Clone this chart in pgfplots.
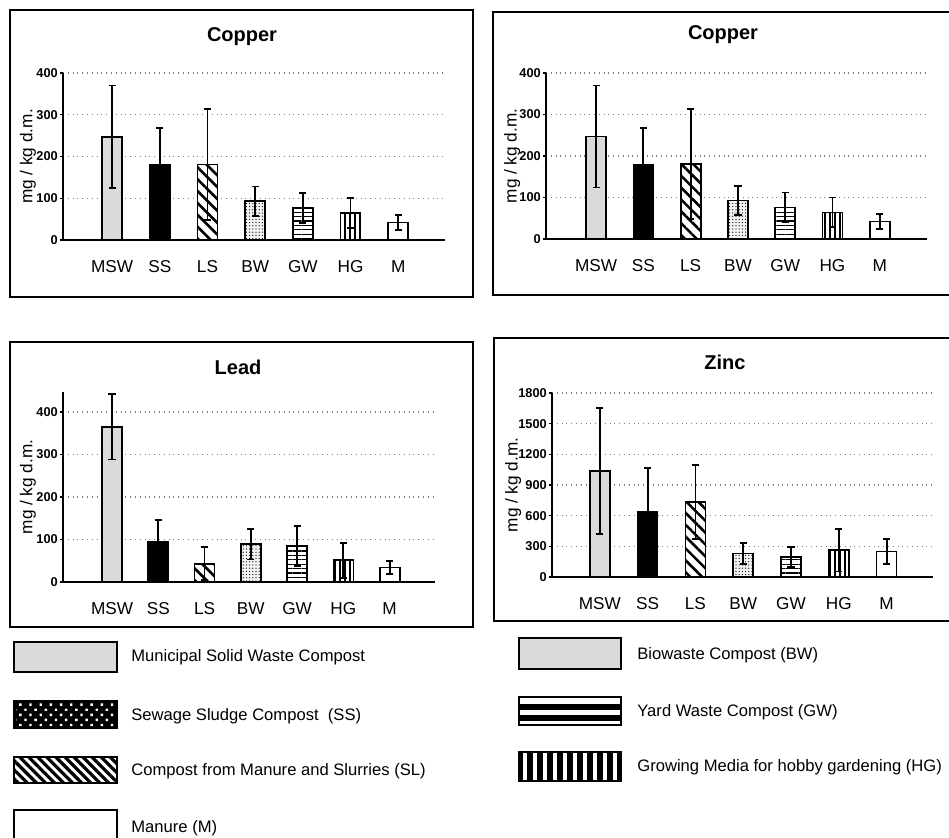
\documentclass[border=0pt]{standalone}
\usepackage{fontspec}
\setmainfont{Liberation Sans}
\usepackage{pgfplots}
\pgfplotsset{compat=1.18}
\usetikzlibrary{patterns.meta}
\definecolor{mswgray}{RGB}{218,218,218}
\pgfplotsset{
  panel/.style 2 args={
    scale only axis, anchor=south west,
    ybar, bar width=10pt, bar shift=0pt,
    ymin=0, xmin=#1, xmax=#2,
    axis lines*=left,
    axis line style={line width=0.8pt, black},
    xtick={0,...,6}, xticklabels={MSW,SS,LS,BW,GW,HG,M},
    x tick style={draw=none},
    xticklabel style={font=\fontsize{8.6}{10}\selectfont, yshift=-5pt},
    yticklabel style={font=\bfseries\fontsize{6.4}{7.5}\selectfont, inner sep=0.8pt},
    y tick style={black, line width=0.6pt},
    tick align=outside, major tick length=1.6pt,
    ymajorgrids, major grid style={dotted, gray, line width=0.6pt},
    /pgf/number format/assume math mode=true,
    /pgf/number format/1000 sep={},
    ylabel={mg / kg d.m.},
    every axis plot/.append style={draw=black, line width=0.85pt},
    error bars/y dir=both, error bars/y explicit,
    error bars/error bar style={black, line width=0.9pt, solid},
    error bars/error mark options={black, line width=0.9pt, mark size=1.8pt, rotate=90},
  },
  ylab/.style={every axis y label/.style={at={(axis description cs:#1,0.5)}, rotate=90, anchor=center, font=\fontsize{8.6}{10}\selectfont}},
  sMSW/.style={fill=mswgray},
  sSS/.style={fill=black},
  sLS/.style={fill=white, postaction={pattern={Lines[angle=-45,distance=4.2pt,line width=1.3pt]}}},
  sBW/.style={fill=gray!10, postaction={pattern={Dots[distance=1.6pt,radius=0.32pt]}}},
  sGW/.style={fill=white, postaction={pattern={Lines[angle=0,distance=2.2pt,line width=0.65pt]}}},
  sHG/.style={fill=white, postaction={pattern={Lines[angle=90,distance=2.5pt,line width=0.8pt]}}},
  sM/.style={fill=white},
}
\newcommand\leg{\fontsize{8.3}{10}\selectfont}
\newcommand\ttl{\bfseries\fontsize{10}{12}\selectfont}
\begin{document}
\begin{tikzpicture}
\useasboundingbox (0,0) rectangle (474.5pt,-418.5pt);
\fill[white] (0,0) rectangle (474.5pt,-418.5pt);
% ---------- Copper (left)
\begin{axis}[panel={-1.03}{6.98}, ylab=-0.0916, at={(31.5pt,-120pt)}, width=191pt, height=83.5pt,
  ymax=400, ytick={0,100,...,400}]
\addplot[sMSW] coordinates {(0,247) +- (0,123)};
\addplot[sSS]  coordinates {(1,179) +- (0,89)};
\addplot[sLS]  coordinates {(2,181) +- (0,133)};
\addplot[sBW]  coordinates {(3,93) +- (0,35)};
\addplot[sGW]  coordinates {(4,76) +- (0,36)};
\addplot[sHG]  coordinates {(5,64) +- (0,36)};
\addplot[sM]   coordinates {(6,42) +- (0,18)};
\end{axis}
% ---------- Copper (right)
\begin{axis}[panel={-1.06}{7.0}, ylab=-0.089, at={(273pt,-119.5pt)}, width=190.5pt, height=83pt,
  ymax=400, ytick={0,100,...,400}]
\addplot[sMSW] coordinates {(0,247) +- (0,123)};
\addplot[sSS]  coordinates {(1,179) +- (0,89)};
\addplot[sLS]  coordinates {(2,181) +- (0,133)};
\addplot[sBW]  coordinates {(3,93) +- (0,35)};
\addplot[sGW]  coordinates {(4,76) +- (0,36)};
\addplot[sHG]  coordinates {(5,64) +- (0,36)};
\addplot[sM]   coordinates {(6,42) +- (0,18)};
\end{axis}
% ---------- Lead
\begin{axis}[panel={-1.06}{6.98}, ylab=-0.094, at={(31.5pt,-291pt)}, width=186pt, height=95pt,
  ymax=447, ytick={0,100,...,400}]
\addplot[sMSW] coordinates {(0,365) +- (0,77)};
\addplot[sSS]  coordinates {(1,94) +- (0,51)};
\addplot[sLS]  coordinates {(2,43) +- (0,39)};
\addplot[sBW]  coordinates {(3,89) +- (0,36)};
\addplot[sGW]  coordinates {(4,85) +- (0,47)};
\addplot[sHG]  coordinates {(5,51) +- (0,41)};
\addplot[sM]   coordinates {(6,34) +- (0,15)};
\end{axis}
% ---------- Zinc
\begin{axis}[panel={-1.0}{6.97}, ylab=-0.102, at={(276pt,-288.5pt)}, width=190.5pt, height=92pt,
  ymax=1800, ytick={0,300,...,1800}]
\addplot[sMSW] coordinates {(0,1037) +- (0,615)};
\addplot[sSS]  coordinates {(1,638) +- (0,432)};
\addplot[sLS]  coordinates {(2,733) +- (0,363)};
\addplot[sBW]  coordinates {(3,229) +- (0,105)};
\addplot[sGW]  coordinates {(4,196) +- (0,95)};
\addplot[sHG]  coordinates {(5,262) +- (0,209)};
\addplot[sM]   coordinates {(6,249) +- (0,120)};
\end{axis}
\begin{scope}[x=0.5pt,y=-0.5pt]
% frames
\draw[line width=1pt] (10,10) rectangle (473,297);
\draw[line width=1pt] (493,12) rectangle (970,295);
\draw[line width=1pt] (10,342) rectangle (473,627);
\draw[line width=1pt] (494,338) rectangle (970,621);
% titles
\node[font=\ttl] at (242,37) {Copper};
\node[font=\ttl] at (723,35) {Copper};
\node[font=\ttl] at (238,367) {Lead};
\node[font=\ttl] at (725,362) {Zinc};
% legend left
\draw[line width=0.8pt, fill=mswgray] (14,642) rectangle (117,672);
\node[anchor=west, font=\leg, inner sep=0pt] at (131,657) {Municipal Solid Waste Compost};
\fill[black] (14,701) rectangle (117,728);
\fill[pattern={Dots[distance=3.6pt,radius=0.85pt,angle=45]}, pattern color=white] (16,703) rectangle (115,726);
\draw[line width=0.8pt] (14,701) rectangle (117,728);
\node[anchor=west, font=\leg, inner sep=0pt] at (131,716) {Sewage Sludge Compost\ \ (SS)};
\fill[white] (14,757) rectangle (117,783);
\fill[pattern={Lines[angle=-45,distance=3.2pt,line width=1.6pt]}] (14,757) rectangle (117,783);
\draw[line width=0.8pt] (14,757) rectangle (117,783);
\node[anchor=west, font=\leg, inner sep=0pt] at (131,771) {Compost from Manure and Slurries (SL)};
\draw[line width=0.8pt, fill=white] (14,810) rectangle (117,850);
\node[anchor=west, font=\leg, inner sep=0pt] at (131,828) {Manure (M)};
% legend right
\draw[line width=0.8pt, fill=mswgray] (519,638) rectangle (621,669);
\node[anchor=west, font=\leg, inner sep=0pt] at (637,655) {Biowaste Compost (BW)};
\draw[line width=0.8pt, fill=white] (519,697) rectangle (621,725);
\fill[black] (519,704) rectangle (621,710);
\fill[black] (519,715) rectangle (621,721);
\node[anchor=west, font=\leg, inner sep=0pt] at (637,712) {Yard Waste Compost (GW)};
\fill[white] (519,752) rectangle (621,781);
\fill[pattern={Lines[angle=90,distance=5pt,line width=2.8pt]}] (519,752) rectangle (621,781);
\draw[line width=0.8pt] (519,752) rectangle (621,781);
\node[anchor=west, font=\leg, inner sep=0pt] at (637,767) {Growing Media for hobby gardening (HG)};
\end{scope}
\end{tikzpicture}
\end{document}
